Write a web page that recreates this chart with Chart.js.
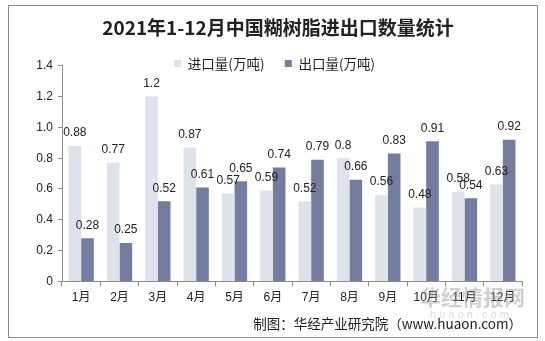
<!DOCTYPE html>
<html>
<head>
<meta charset="utf-8">
<script src="https://cdn.jsdelivr.net/npm/chart.js@4.4.1/dist/chart.umd.min.js"></script>
<style>
    html, body { margin: 0; padding: 0; background: #fff; }
    #wrap { position: relative; width: 545px; height: 341px; }
    #frame {
        position: absolute; left: 8px; top: 5px; width: 528px; height: 331px;
        border: 1px solid #8c8c8c; pointer-events: none;
    }
    canvas { position: absolute; left: 0; top: 0; }
</style>
</head>
<body>
<div id="wrap">
    <canvas id="chart" width="545" height="341"></canvas>
    <div id="frame"></div>
</div>
<script>
const months = ['1月', '2月', '3月', '4月', '5月', '6月', '7月', '8月', '9月', '10月', '11月', '12月'];
const importQty = [0.88, 0.77, 1.2, 0.87, 0.57, 0.59, 0.52, 0.8, 0.56, 0.48, 0.58, 0.63];
const exportQty = [0.28, 0.25, 0.52, 0.61, 0.65, 0.74, 0.79, 0.66, 0.83, 0.91, 0.54, 0.92];
const yTicks = [0, 0.2, 0.4, 0.6, 0.8, 1, 1.2, 1.4];
const legendGaps = ['\u3000\u2002', '\u2002'];

const FONT = '"Liberation Sans", Arial, "Noto Sans CJK SC", sans-serif';
const CJK = '"Noto Sans CJK SC", "Liberation Sans", sans-serif';

// value labels above every bar
const barLabels = {
    id: 'barLabels',
    afterDatasetsDraw(chart) {
        const ctx = chart.ctx;
        ctx.save();
        ctx.font = '12px ' + FONT;
        ctx.fillStyle = '#222';
        ctx.textAlign = 'center';
        ctx.textBaseline = 'middle';
        chart.data.datasets.forEach((ds, i) => {
            chart.getDatasetMeta(i).data.forEach((bar, j) => {
                ctx.fillText(String(ds.data[j]), bar.x, bar.y - 13);
            });
        });
        ctx.restore();
    }
};

// legend sits on the top edge of the plot, level with the 1.4 tick
const legendLift = {
    id: 'legendLift',
    afterLayout(chart) {
        const lg = chart.legend;
        if (!lg) return;
        lg.top = chart.chartArea.top - 9;
        lg.height = 18;
        lg.bottom = lg.top + lg.height;
    }
};

// faint site watermark
const watermark = {
    id: 'watermark',
    afterDraw(chart) {
        const ctx = chart.ctx;
        ctx.save();
        ctx.fillStyle = 'rgba(150,150,150,0.45)';
        ctx.font = 'bold 21px ' + CJK;
        ctx.textAlign = 'left';
        ctx.textBaseline = 'middle';
        ctx.fillText('华经情报网', 420, 297);
        ctx.font = '11px ' + FONT;
        ctx.fillStyle = 'rgba(170,170,170,0.4)';
        ctx.fillText('h u a o n . c o m', 430, 315);
        ctx.restore();
    }
};

new Chart(document.getElementById('chart'), {
    type: 'bar',
    data: {
        labels: months,
        datasets: [
            {
                label: '进口量(万吨)',
                data: importQty,
                backgroundColor: '#dee2ea',
                borderWidth: 0,
                categoryPercentage: 0.66,
                barPercentage: 1.0
            },
            {
                label: '出口量(万吨)',
                data: exportQty,
                backgroundColor: '#727da0',
                borderWidth: 0,
                categoryPercentage: 0.66,
                barPercentage: 1.0
            }
        ]
    },
    options: {
        responsive: false,
        animation: false,
        devicePixelRatio: 1,
        layout: { padding: { left: 34, right: 23, top: 0, bottom: 0 } },
        plugins: {
            title: {
                display: true,
                text: '2021年1-12月中国糊树脂进出口数量统计',
                color: '#222',
                font: { family: CJK, size: 19, weight: 'bold' },
                padding: { top: 16, bottom: 26 }
            },
            subtitle: {
                display: true,
                position: 'bottom',
                align: 'end',
                text: '制图：华经产业研究院（www.huaon.com）',
                color: '#222',
                font: { family: CJK, size: 13.5 },
                padding: { top: 7, bottom: 9 }
            },
            legend: {
                position: 'top',
                align: 'center',
                maxHeight: 1,
                labels: {
                    boxWidth: 7,
                    boxHeight: 7,
                    padding: 0,
                    color: '#222',
                    font: { family: CJK, size: 13.5 },
                    generateLabels: (chart) =>
                        Chart.defaults.plugins.legend.labels.generateLabels(chart)
                            .map((l, i) => ({ ...l, text: l.text + legendGaps[i] }))
                }
            },
            tooltip: { enabled: false }
        },
        scales: {
            x: {
                grid: {
                    display: true,
                    drawOnChartArea: false,
                    drawTicks: true,
                    tickLength: 5,
                    color: '#8c8c8c'
                },
                border: { display: true, color: '#8c8c8c' },
                ticks: { color: '#222', padding: 4, font: { family: FONT, size: 12 } }
            },
            y: {
                min: 0,
                max: 1.4,
                afterBuildTicks: (scale) => { scale.ticks = yTicks.map(v => ({ value: v })); },
                afterFit: (scale) => { scale.width = 28; },
                grid: {
                    display: true,
                    drawOnChartArea: false,
                    drawTicks: true,
                    tickLength: 4,
                    color: '#8c8c8c'
                },
                border: { display: true, color: '#8c8c8c' },
                ticks: { color: '#222', padding: 5, font: { family: FONT, size: 12 } }
            }
        }
    },
    plugins: [barLabels, legendLift, watermark]
});
</script>
</body>
</html>
